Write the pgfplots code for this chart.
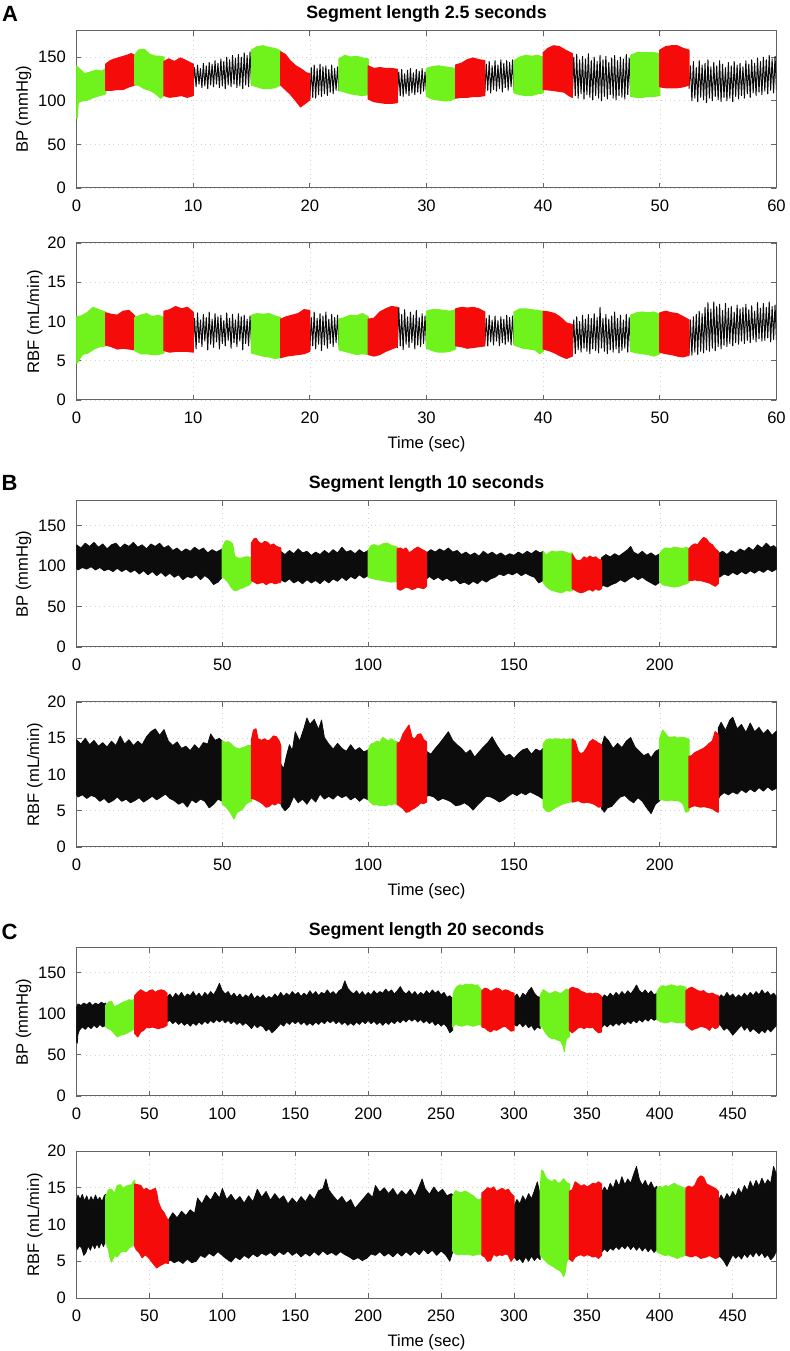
\documentclass[border=0pt]{standalone}
\usepackage{fontspec}
\setmainfont{Liberation Sans}
\usepackage{pgfplots}
\pgfplotsset{compat=1.18}
\definecolor{grn}{RGB}{112,242,28}
\definecolor{rd}{RGB}{245,12,10}
\definecolor{blk}{RGB}{12,12,12}
\definecolor{axc}{RGB}{100,100,100}
\newcommand{\fs}{\fontsize{8.3}{10}\selectfont}
\newcommand{\ts}{\fontsize{8.9}{10}\selectfont\bfseries}
\newcommand{\ls}{\fontsize{11}{12}\selectfont\bfseries}
\pgfplotsset{
 every axis title/.style={at={(0.5,1)}, anchor=center, yshift=8.5pt, font=\ts},
 base/.style={scale only axis, width=350pt, xmin=0,
  axis line style={axc, line width=0.5pt},
  every tick/.style={axc, line width=0.4pt}, major tick length=2.5pt,
  grid=major, major grid style={gray!35, line width=0.3pt, dotted},
  tick label style={font=\fs}, label style={font=\fs},
  /pgf/number format/assume math mode=true,
  yticklabel style={xshift=-1.8pt}, xticklabel style={yshift=-2.3pt},
  xlabel style={at={(axis description cs:0.5,0)}, anchor=center, yshift=-22pt}},
 bp/.style={ymin=0, ymax=180, ytick={0,50,100,150}, ylabel={BP (mmHg)},
  ylabel style={at={(axis description cs:-0.0757,0.5)}, anchor=center}},
 rbf/.style={ymin=0, ymax=20, ytick={0,5,10,15,20}, ylabel={RBF (mL/min)},
  ylabel style={at={(axis description cs:-0.0594,0.5)}, anchor=center}},
 zz/.style={blk, line width=0.5pt, line join=round},
 gseg/.style={draw=grn, fill=grn, line width=0.6pt, line join=round},
 rseg/.style={draw=rd, fill=rd, line width=0.6pt, line join=round},
 kseg/.style={draw=blk, fill=blk, line width=0.4pt, line join=round},
}
\begin{document}
\begin{tikzpicture}
\path[use as bounding box] (0,0) rectangle (394.5pt,675.5pt);
\node[font=\ls] at (5pt,668.5pt) {A};
\node[font=\ls] at (4.75pt,434pt) {B};
\node[font=\ls] at (4.75pt,209.5pt) {C};

% ---------------- A BP
\begin{axis}[base, bp, at={(38.25pt,581.5pt)}, anchor=south west, height=78.5pt,
  xmax=60, xtick={0,10,...,60}, title={Segment length 2.5 seconds}]
\addplot[zz] coordinates {(10,118)(10.125,138)(10.25,116)(10.375,141)(10.5,119)(10.625,137)(10.75,115)(10.875,143)(11,117)(11.125,140)(11.25,114)(11.375,144)(11.5,118)(11.625,142)(11.75,116)(11.875,146)(12,119)(12.125,143)(12.25,115)(12.375,148)(12.5,117)(12.625,145)(12.75,114)(12.875,150)(13,118)(13.125,147)(13.25,116)(13.375,152)(13.5,119)(13.625,149)(13.75,115)(13.875,153)(14,117)(14.125,150)(14.25,114)(14.375,155)(14.5,118)(14.625,152)(14.75,116)(14.875,156)(15,118)};
\addplot[zz] coordinates {(20,102)(20.125,138)(20.25,104)(20.375,141)(20.5,103)(20.625,137)(20.75,107)(20.875,142)(21,105)(21.125,139)(21.25,108)(21.375,140)(21.5,106)(21.625,136)(21.75,110)(21.875,141)(22,108)(22.125,137)(22.25,112)(22.375,139)(22.5,111)};
\addplot[zz] coordinates {(27.5,104)(27.625,133)(27.75,106)(27.875,136)(28,105)(28.125,131)(28.25,108)(28.375,135)(28.5,106)(28.625,137)(28.75,109)(28.875,132)(29,107)(29.125,136)(29.25,110)(29.375,134)(29.5,108)(29.625,137)(29.75,111)(29.875,133)(30,108)};
\addplot[zz] coordinates {(35,110)(35.125,142)(35.25,112)(35.375,145)(35.5,109)(35.625,140)(35.75,113)(35.875,146)(36,111)(36.125,141)(36.25,114)(36.375,147)(36.5,110)(36.625,143)(36.75,115)(36.875,146)(37,112)(37.125,144)(37.25,116)(37.375,147)(37.5,112)};
\addplot[zz] coordinates {(42.5,104)(42.625,150)(42.75,106)(42.875,153)(43,103)(43.125,147)(43.25,108)(43.375,151)(43.5,102)(43.625,148)(43.75,107)(43.875,154)(44,104)(44.125,146)(44.25,101)(44.375,150)(44.5,106)(44.625,145)(44.75,103)(44.875,152)(45,100)(45.125,147)(45.25,105)(45.375,151)(45.5,102)(45.625,144)(45.75,107)(45.875,149)(46,103)(46.125,152)(46.25,101)(46.375,146)(46.5,106)(46.625,150)(46.75,104)(46.875,148)(47,102)(47.125,153)(47.25,107)(47.375,149)(47.5,105)};
\addplot[zz] coordinates {(52.5,114)(52.625,140)(52.75,100)(52.875,145)(53,103)(53.125,138)(53.25,99)(53.375,146)(53.5,104)(53.625,141)(53.75,101)(53.875,143)(54,98)(54.125,147)(54.25,103)(54.375,139)(54.5,100)(54.625,144)(54.75,105)(54.875,140)(55,101)(55.125,146)(55.25,99)(55.375,142)(55.5,104)(55.625,138)(55.75,100)(55.875,144)(56,103)(56.125,140)(56.25,99)(56.375,145)(56.5,105)(56.625,141)(56.75,102)(56.875,143)(57,106)(57.125,139)(57.25,103)(57.375,146)(57.5,108)(57.625,142)(57.75,104)(57.875,147)(58,109)(58.125,143)(58.25,106)(58.375,149)(58.5,110)(58.625,145)(58.75,107)(58.875,150)(59,111)(59.125,147)(59.25,108)(59.375,152)(59.5,112)(59.625,148)(59.75,109)(59.875,151)(60,112)};
\addplot[gseg] coordinates {(0,140)(0.3,136)(0.7,131)(1.2,133)(1.7,135)(2.2,134)(2.5,137)(2.5,108)(2,106)(1.5,104)(1,101)(0.5,100)(0.15,98)(0.05,80)(0,80)} -- cycle;
\addplot[rseg] coordinates {(2.5,142)(2.9,146)(3.3,148)(3.8,150)(4.3,152)(4.7,154)(5,152)(5,118)(4.5,116)(4,113)(3.5,113)(3,112)(2.5,112)} -- cycle;
\addplot[gseg] coordinates {(5,152)(5.3,158)(5.8,159)(6.3,153)(6.8,151)(7.2,151)(7.5,150)(7.5,106)(7.2,103)(6.8,108)(6.3,112)(5.8,114)(5.3,118)(5,118)} -- cycle;
\addplot[rseg] coordinates {(7.5,145)(7.9,148)(8.4,145)(8.9,149)(9.4,146)(10,142)(10,106)(9.5,104)(9,106)(8.5,105)(8,104)(7.5,106)} -- cycle;
\addplot[gseg] coordinates {(15,158)(15.5,162)(16,163)(16.5,161)(17,160)(17.5,157)(17.5,118)(17,115)(16.5,114)(16,114)(15.5,116)(15,118)} -- cycle;
\addplot[rseg] coordinates {(17.5,156)(17.9,153)(18.3,146)(18.8,140)(19.3,136)(19.7,132)(20,131)(20,101)(19.6,97)(19.2,93)(18.8,100)(18.3,108)(17.9,113)(17.5,118)} -- cycle;
\addplot[gseg] coordinates {(22.5,148)(23,152)(23.5,150)(24,151)(24.5,149)(25,148)(25,107)(24.5,106)(24,107)(23.5,108)(23,110)(22.5,112)} -- cycle;
\addplot[rseg] coordinates {(25,140)(25.5,137)(26,138)(26.5,137)(27,137)(27.5,136)(27.5,98)(27,97)(26.5,97)(26,98)(25.5,99)(25,102)} -- cycle;
\addplot[gseg] coordinates {(30,137)(30.5,139)(31,140)(31.5,139)(32,138)(32.5,137)(32.5,103)(32,100)(31.5,100)(31,101)(30.5,102)(30,105)} -- cycle;
\addplot[rseg] coordinates {(32.5,141)(33,143)(33.5,147)(34,149)(34.5,147)(35,146)(35,106)(34.5,105)(34,105)(33.5,104)(33,104)(32.5,103)} -- cycle;
\addplot[gseg] coordinates {(37.5,146)(38,150)(38.5,152)(39,151)(39.5,152)(40,150)(40,109)(39.5,108)(39,106)(38.5,106)(38,107)(37.5,109)} -- cycle;
\addplot[rseg] coordinates {(40,155)(40.4,160)(40.9,163)(41.4,162)(41.9,158)(42.5,154)(42.5,104)(42.2,106)(41.8,110)(41.3,111)(40.8,112)(40,113)} -- cycle;
\addplot[gseg] coordinates {(47.5,152)(48,155)(48.5,155)(49,155)(49.5,155)(50,154)(50,106)(49.5,105)(49,105)(48.5,104)(48,104)(47.5,105)} -- cycle;
\addplot[rseg] coordinates {(50,158)(50.5,162)(51,163)(51.5,163)(52,160)(52.5,158)(52.5,118)(52,116)(51.5,115)(51,115)(50.5,115)(50,116)} -- cycle;
\end{axis}

% ---------------- A RBF
\begin{axis}[base, rbf, at={(38.25pt,475.5pt)}, anchor=south west, height=78.5pt,
  xmax=60, xtick={0,10,...,60}, xlabel={Time (sec)}]
\addplot[zz] coordinates {(10,7)(10.125,10.4)(10.25,6.5)(10.375,11.1)(10.5,7.3)(10.625,10.2)(10.75,6.8)(10.875,10.9)(11,7.5)(11.125,10.5)(11.25,6.4)(11.375,11.2)(11.5,7.1)(11.625,10.3)(11.75,6.7)(11.875,11)(12,7.4)(12.125,10.6)(12.25,6.5)(12.375,10.8)(12.5,7.2)(12.625,10.1)(12.75,6.9)(12.875,11.1)(13,7.6)(13.125,10.4)(13.25,6.6)(13.375,10.9)(13.5,7.3)(13.625,10.2)(13.75,6.8)(13.875,11)(14,7.5)(14.125,10.6)(14.25,6.4)(14.375,10.8)(14.5,7.2)(14.625,10.3)(14.75,6.9)(14.875,10.7)(15,7.1)};
\addplot[zz] coordinates {(20,6.4)(20.125,10.5)(20.25,6.9)(20.375,11.2)(20.5,6.5)(20.625,10.4)(20.75,7.1)(20.875,11)(21,6.3)(21.125,10.7)(21.25,7)(21.375,11.2)(21.5,6.6)(21.625,10.3)(21.75,7.2)(21.875,10.9)(22,6.8)(22.125,10.5)(22.25,7.3)(22.375,10.8)(22.5,7)};
\addplot[zz] coordinates {(27.5,6.6)(27.625,11.8)(27.75,6.9)(27.875,10.9)(28,6.4)(28.125,11.5)(28.25,7.1)(28.375,10.6)(28.5,6.7)(28.625,11.2)(28.75,7.3)(28.875,10.8)(29,6.5)(29.125,11.4)(29.25,7)(29.375,10.5)(29.5,6.8)(29.625,11)(29.75,7.2)(29.875,10.7)(30,6.9)};
\addplot[zz] coordinates {(35,7.2)(35.125,10.4)(35.25,6.9)(35.375,10.8)(35.5,7.4)(35.625,10.2)(35.75,7)(35.875,10.7)(36,7.5)(36.125,10.1)(36.25,6.9)(36.375,10.6)(36.5,7.3)(36.625,10.3)(36.75,7.1)(36.875,10.8)(37,7.4)(37.125,10.5)(37.25,7)(37.375,10.7)(37.5,7.2)};
\addplot[zz] coordinates {(42.5,6)(42.625,10.2)(42.75,5.9)(42.875,10.6)(43,6.4)(43.125,10)(43.25,6.1)(43.375,10.8)(43.5,6.6)(43.625,10.3)(43.75,6.2)(43.875,10.9)(44,5.9)(44.125,10.4)(44.25,6.5)(44.375,11)(44.5,6.3)(44.625,10.5)(44.75,6)(44.875,11.8)(45,6.6)(45.125,10.4)(45.25,6.2)(45.375,10.9)(45.5,5.9)(45.625,10.3)(45.75,6.4)(45.875,10.7)(46,6.1)(46.125,11.2)(46.25,6.5)(46.375,10.4)(46.5,6)(46.625,10.8)(46.75,6.3)(46.875,10.2)(47,6.6)(47.125,10.9)(47.25,6.1)(47.375,10.5)(47.5,6.2)};
\addplot[zz] coordinates {(52.5,5.9)(52.625,10.2)(52.75,5.7)(52.875,10.6)(53,6.1)(53.125,10.9)(53.25,5.8)(53.375,11.3)(53.5,6.2)(53.625,11)(53.75,6)(53.875,11.8)(54,6.4)(54.125,12.4)(54.25,6.2)(54.375,11.6)(54.5,6.6)(54.625,12.5)(54.75,6.3)(54.875,11.9)(55,6.8)(55.125,12.2)(55.25,6.5)(55.375,11.4)(55.5,7)(55.625,12.3)(55.75,6.8)(55.875,11.7)(56,7.2)(56.125,11.9)(56.25,6.9)(56.375,11.2)(56.5,7.3)(56.625,12.1)(56.75,7.1)(56.875,11.6)(57,7.5)(57.125,11.8)(57.25,7.2)(57.375,12.2)(57.5,7.6)(57.625,11.5)(57.75,7.3)(57.875,12)(58,7.7)(58.125,11.3)(58.25,7.4)(58.375,12.4)(58.5,7.8)(58.625,11.7)(58.75,7.5)(58.875,12.3)(59,7.6)(59.125,11.8)(59.25,7.9)(59.375,12.5)(59.5,7.4)(59.625,11.9)(59.75,7.7)(59.875,12.1)(60,7.6)};
\addplot[gseg] coordinates {(0,10.6)(0.4,10.7)(0.9,11.1)(1.4,11.8)(1.9,11.5)(2.5,11.2)(2.5,6.9)(2,6.8)(1.5,6.5)(1,6)(0.5,5.8)(0.1,4.8)(0,4.7)} -- cycle;
\addplot[rseg] coordinates {(2.5,11.1)(3,10.9)(3.5,10.8)(4,11.3)(4.5,11.4)(5,10.7)(5,6.4)(4.5,6.5)(4,6.6)(3.5,6.5)(3,6.8)(2.5,7)} -- cycle;
\addplot[gseg] coordinates {(5,10.5)(5.5,10.8)(6,11)(6.5,10.6)(7,10.8)(7.5,10.5)(7.5,6)(7,5.8)(6.5,5.8)(6,5.9)(5.5,5.9)(5,6.3)} -- cycle;
\addplot[rseg] coordinates {(7.5,11.3)(8,11.5)(8.5,11.9)(9,11.6)(9.5,11.8)(10,11.2)(10,6.1)(9.5,6.2)(9,6.2)(8.5,6.2)(8,6.1)(7.5,6.3)} -- cycle;
\addplot[gseg] coordinates {(15,10.8)(15.5,11)(16,10.9)(16.5,11)(17,10.7)(17.5,10.5)(17.5,5.4)(17,5.3)(16.5,5.5)(16,5.6)(15.5,5.8)(15,6)} -- cycle;
\addplot[rseg] coordinates {(17.5,10.3)(18,10.6)(18.5,10.8)(19,11)(19.5,11.5)(20,11.4)(20,6.2)(19.5,5.9)(19,5.8)(18.5,5.7)(18,5.6)(17.5,5.4)} -- cycle;
\addplot[gseg] coordinates {(22.5,10.3)(23,10.5)(23.5,10.8)(24,10.7)(24.5,11)(25,10.6)(25,5.8)(24.5,5.9)(24,5.8)(23.5,6)(23,6.2)(22.5,6.4)} -- cycle;
\addplot[rseg] coordinates {(25,10.3)(25.5,10.4)(26,11.2)(26.5,11.6)(27,11.9)(27.5,11.8)(27.5,6.8)(27,6.5)(26.5,6.2)(26,5.8)(25.5,5.6)(25,5.8)} -- cycle;
\addplot[gseg] coordinates {(30,11.3)(30.5,11.5)(31,11.5)(31.5,11.4)(32,11.3)(32.5,11.5)(32.5,6.5)(32,6.2)(31.5,6.1)(31,6.1)(30.5,6.3)(30,6.6)} -- cycle;
\addplot[rseg] coordinates {(32.5,11.6)(33,11.8)(33.5,11.7)(34,11.8)(34.5,11.6)(35,11.2)(35,6.9)(34.5,6.8)(34,6.7)(33.5,6.6)(33,6.8)(32.5,6.9)} -- cycle;
\addplot[gseg] coordinates {(37.5,11.2)(38,11.6)(38.5,11.6)(39,11.5)(39.5,11.4)(40,11.3)(40,6.2)(39.7,5.9)(39.3,6.4)(38.8,6.5)(38.3,6.6)(37.5,7)} -- cycle;
\addplot[rseg] coordinates {(40,11.3)(40.5,11.2)(41,11)(41.5,10.5)(42,9.8)(42.5,9.6)(42.5,5.6)(42,5.3)(41.5,5.6)(41,6)(40.5,6.3)(40,6.5)} -- cycle;
\addplot[gseg] coordinates {(47.5,10.8)(48,11.1)(48.5,11.2)(49,11.1)(49.5,11.2)(50,10.9)(50,5.9)(49.5,5.6)(49,5.8)(48.5,5.9)(48,6)(47.5,6.2)} -- cycle;
\addplot[rseg] coordinates {(50,11.1)(50.5,11.3)(51,11.1)(51.5,11)(52,10.6)(52.5,10.2)(52.5,5.7)(52,5.5)(51.5,5.6)(51,5.8)(50.5,5.9)(50,6.1)} -- cycle;
\end{axis}

% ---------------- B BP
\begin{axis}[base, bp, at={(38.25pt,352pt)}, anchor=south west, height=73pt,
  xmax=240, xtick={0,50,...,200}, title={Segment length 10 seconds}]
\addplot[kseg] coordinates {(0,126)(1.5,122)(3,128)(4.5,124)(6,129)(7.5,123)(9,127)(10.5,121)(12,126)(13.5,128)(15,122)(16.5,127)(18,124)(19.5,129)(21,123)(22.5,126)(24,121)(25.5,127)(27,124)(28.5,128)(30,122)(31.5,125)(33,119)(34.5,122)(36,117)(37.5,121)(39,118)(40.5,123)(42,119)(43.5,122)(45,116)(46.5,120)(48,117)(50,121)
 (50,86)(48.5,80)(47,77)(45.5,84)(44,88)(42.5,83)(41,89)(39.5,85)(38,87)(36.5,83)(35,89)(33.5,86)(32,91)(30.5,87)(29,92)(27.5,88)(26,93)(24.5,89)(23,94)(21.5,90)(20,95)(18.5,92)(17,96)(15.5,93)(14,97)(12.5,93)(11,96)(9.5,94)(8,98)(6.5,95)(5,99)(3.5,96)(2,98)(0.5,95)(0,97)} -- cycle;
\addplot[kseg] coordinates {(70,118)(71.5,114)(73,119)(74.5,115)(76,121)(77.5,116)(79,118)(80.5,113)(82,117)(83.5,114)(85,119)(86.5,115)(88,120)(89.5,116)(91,123)(92.5,117)(94,119)(95.5,115)(97,120)(98.5,116)(100,119)
 (100,88)(98.5,85)(97,89)(95.5,84)(94,87)(92.5,82)(91,86)(89.5,81)(88,84)(86.5,79)(85,83)(83.5,78)(82,82)(80.5,79)(79,83)(77.5,78)(76,82)(74.5,79)(73,84)(71.5,80)(70,83)} -- cycle;
\addplot[kseg] coordinates {(120,116)(121.5,120)(123,117)(124.5,121)(126,118)(127.5,122)(129,117)(130.5,119)(132,114)(133.5,117)(135,113)(136.5,116)(138,112)(139.5,118)(141,114)(142.5,117)(144,113)(145.5,116)(147,112)(148.5,115)(150,113)(151.5,117)(153,114)(154.5,118)(156,115)(157.5,119)(159,116)(160,118)
 (160,82)(158.5,79)(157,86)(155.5,88)(154,91)(152.5,88)(151,92)(149.5,89)(148,91)(146.5,88)(145,90)(143.5,86)(142,84)(140.5,80)(139,83)(137.5,78)(136,81)(134.5,77)(133,80)(131.5,78)(130,83)(128.5,81)(127,85)(125.5,82)(124,86)(122.5,83)(121,87)(120,84)} -- cycle;
\addplot[kseg] coordinates {(180,110)(181.5,114)(183,111)(184.5,115)(186,112)(187.5,116)(189,120)(190,124)(191,117)(192.5,114)(194,118)(195.5,113)(197,116)(198.5,112)(200,115)
 (200,80)(198.5,76)(197,79)(195.5,82)(194,86)(192.5,83)(191,87)(189.5,84)(188,80)(186.5,83)(185,79)(183.5,77)(182,74)(180.5,76)(180,74)} -- cycle;
\addplot[kseg] coordinates {(220,115)(221.5,118)(223,114)(224.5,119)(226,116)(227.5,121)(229,118)(230.5,123)(232,119)(233.5,126)(235,122)(236.5,128)(238,123)(239,125)(240,122)
 (240,96)(238.5,93)(237,96)(235.5,92)(234,95)(232.5,91)(231,94)(229.5,90)(228,93)(226.5,89)(225,92)(223.5,88)(222,90)(220.5,86)(220,88)} -- cycle;
\addplot[gseg] coordinates {(50,121)(50.8,129)(51.5,131)(52.5,130)(53.5,127)(54.2,112)(55,110)(56,109)(57,110)(58,111)(59,111)(60,110)(60,80)(59,76)(58,75)(57,73)(56,72)(55,70)(54,70)(53,74)(52,80)(51,84)(50,86)} -- cycle;
\addplot[rseg] coordinates {(60,128)(60.8,133)(61.5,134)(62.5,129)(63.5,127)(64.5,130)(65.5,129)(66.5,125)(67.5,127)(68.5,124)(70,122)(70,80)(69,79)(68,78)(67,80)(66,79)(65,77)(64,80)(63,79)(62,78)(61,80)(60,82)} -- cycle;
\addplot[gseg] coordinates {(100,119)(101,125)(102,126)(103.5,124)(105,127)(106.5,128)(108,125)(109,124)(110,123)(110,80)(109,81)(108,80)(106.5,81)(105,82)(103.5,83)(102,84)(101,85)(100,86)} -- cycle;
\addplot[rseg] coordinates {(110,121)(111,122)(112,120)(113,122)(114,116)(115,118)(116,121)(117,123)(118,121)(119,119)(120,117)(120,75)(119,72)(118,73)(117,74)(116,72)(115,71)(114,73)(113,74)(112,72)(111,70)(110,72)} -- cycle;
\addplot[gseg] coordinates {(160,118)(161,113)(162,116)(163,118)(164.5,117)(166,118)(167.5,117)(169,115)(170,116)(170,70)(169,69)(168,70)(167,68)(166,67)(165,68)(164,69)(163,70)(162,72)(161,75)(160,80)} -- cycle;
\addplot[rseg] coordinates {(170,114)(171,108)(172,106)(173,107)(174,111)(175,109)(176,112)(177,110)(178,111)(179,108)(180,107)(180,72)(179,70)(178,72)(177,69)(176,71)(175,70)(174,68)(173,67)(172,68)(171,70)(170,72)} -- cycle;
\addplot[gseg] coordinates {(200,115)(201,120)(202,122)(203.5,121)(205,123)(206.5,122)(208,121)(209,123)(210,121)(210,80)(209,78)(208,77)(206.5,75)(205,74)(203.5,75)(202,76)(201,77)(200,80)} -- cycle;
\addplot[rseg] coordinates {(210,121)(211,125)(212,127)(213,126)(214,131)(215,135)(216,133)(217,128)(218,126)(219,121)(220,118)(220,78)(219,75)(218,77)(217,79)(216,80)(215,81)(214,82)(213,82)(212,83)(211,82)(210,82)} -- cycle;
\end{axis}

% ---------------- B RBF
\begin{axis}[base, rbf, at={(38.25pt,252pt)}, anchor=south west, height=72.5pt,
  xmax=240, xtick={0,50,...,200}, xlabel={Time (sec)}]
\addplot[kseg] coordinates {(0,14.8)(1.5,14.2)(3,15)(4.5,14.1)(6,14.7)(7.5,13.9)(9,14.4)(10.5,13.8)(12,14.6)(13.5,14)(15,15.3)(16.5,14.2)(18,14.8)(19.5,14)(21,14.6)(22.5,14.1)(24,15.2)(25.5,15.9)(27,16.3)(28.5,15.4)(30,16.2)(31.5,14.6)(33,14)(34.5,14.5)(36,13.6)(37.5,13.9)(39,13.3)(40.5,14.1)(42,13.5)(43.5,14.4)(45,14.2)(46,15.6)(47.5,14.7)(49,15)(50,14.6)
 (50,6.3)(48.5,6.6)(47,5.9)(45.5,5.4)(44,6.3)(42.5,6.6)(41,6.1)(39.5,6.5)(38,5.5)(36.5,6.2)(35,5.9)(33.5,6.4)(32,6.7)(30.5,7.3)(29,6.9)(27.5,6.5)(26,7)(24.5,6.6)(23,6.2)(21.5,6.8)(20,6.4)(18.5,6.1)(17,6.6)(15.5,6.3)(14,6.9)(12.5,6.4)(11,6.1)(9.5,6.7)(8,6.3)(6.5,6.9)(5,7.1)(3.5,6.7)(2,7.2)(0.5,6.9)(0,7.2)} -- cycle;
\addplot[kseg] coordinates {(70,11.5)(71,10.8)(72,12.6)(73,14.1)(74,13.3)(75,15.9)(76.5,14.6)(78,16.4)(79,17.8)(80,16.9)(81.5,17.6)(83,16.2)(84,17.5)(85,15.1)(86.5,14.2)(88,13.5)(89.5,14.3)(91,13.6)(92.5,13.2)(94,14.1)(95.5,13.3)(97,13.7)(98.5,13.1)(100,13.4)
 (100,6.5)(98.5,6.8)(97,6.3)(95.5,6.9)(94,6.5)(92.5,7.1)(91,6.8)(89.5,7.2)(88,6.6)(86.5,7)(85,6.6)(83.5,7.3)(82,6.2)(80.5,6.8)(79,5.9)(77.5,6.6)(76,6.1)(74.5,7)(73,5.6)(71.5,5)(70.5,5.5)(70,6)} -- cycle;
\addplot[kseg] coordinates {(120,13.2)(121.5,12.8)(123,13.6)(124.5,14.3)(126,15.1)(127.5,15.9)(129,14.7)(130.5,14.1)(132,13.6)(133.5,12.9)(135,13.4)(136.5,12.4)(138,13.1)(139.5,13.8)(141,14.4)(142.5,15.2)(144,14.1)(145.5,13.2)(147,12.5)(148.5,12.8)(150,12.2)(151.5,12.9)(153,13.4)(154.5,13.6)(156,12.8)(157.5,13.5)(159,13.2)(160,13.6)
 (160,6.6)(158.5,7)(157,7.3)(155.5,7.6)(154,7.2)(152.5,7.5)(151,7.1)(149.5,7.4)(148,7)(146.5,6.5)(145,6.2)(143.5,6.6)(142,6.9)(140.5,7)(139,6.4)(137.5,5.8)(136,5.1)(134.5,5.7)(133,6.1)(131.5,5.8)(130,5.7)(128.5,6.2)(127,6.5)(125.5,6.7)(124,6.4)(122.5,6.9)(121,7.1)(120,7)} -- cycle;
\addplot[kseg] coordinates {(180,13.8)(181,15.3)(182.5,14.6)(184,13.6)(185.5,14.3)(187,13.7)(188.5,14.6)(190,15.1)(191.5,13.8)(193,13.2)(194.5,12.6)(196,12.9)(197,12.3)(198.5,13.2)(200,13.5)
 (200,6.4)(198.5,5.9)(197,4.6)(195.5,5.4)(194,6.3)(192.5,6.8)(191,6.1)(189.5,6.5)(188,7.1)(186.5,6.9)(185,6.3)(183.5,5.6)(182,5.4)(181,4.8)(180,5.3)} -- cycle;
\addplot[kseg] coordinates {(220,16.4)(221,17.2)(222.5,16.1)(224,17.5)(225,17.9)(226.5,16.3)(228,16.9)(229.5,15.8)(231,17.1)(232.5,15.9)(234,16.5)(235.5,15.6)(237,16.2)(238.5,15.4)(240,16)
 (240,8.1)(238.5,7.8)(237,8.3)(235.5,7.7)(234,8.2)(232.5,7.6)(231,8)(229.5,7.5)(228,7.9)(226.5,7.3)(225,7.6)(223.5,7.2)(222,7.5)(220.5,7)(220,6.5)} -- cycle;
\addplot[gseg] coordinates {(50,14.6)(51,14.4)(52,14.5)(53,14.2)(54,13.8)(55,13.6)(56,13.5)(57,13.7)(58,13.8)(59,14)(60,14)(60,6.3)(59,6.2)(58,5.9)(57,5.3)(56,5)(55,4.8)(54,3.9)(53,4.6)(52,5.2)(51,5.6)(50,6)} -- cycle;
\addplot[rseg] coordinates {(60,14.8)(60.7,16.1)(61.5,16.3)(62.2,14.9)(63.5,14.7)(64.5,14.9)(65.5,14.6)(66.5,14.8)(67.5,15.3)(68.5,15.2)(69.5,14.6)(70,14)(70,6)(69,6.1)(68,5.8)(67,6)(66,5.6)(65,5.5)(64,5.9)(63,6.2)(62,6.4)(61,6.6)(60,6.7)} -- cycle;
\addplot[gseg] coordinates {(100,13.4)(101,14.2)(102,14.3)(103,14.6)(104,14.4)(105,15.1)(106,14.8)(107,14.6)(108,14.9)(109,14.6)(110,14.5)(110,5.8)(109,6)(108,5.8)(107,5.9)(106,5.7)(105,5.8)(104,5.7)(103,5.9)(102,5.8)(101,6.1)(100,6.5)} -- cycle;
\addplot[rseg] coordinates {(110,14.3)(111,14.5)(112,15.6)(113,16.2)(114,16.8)(115,15.1)(116,14.9)(117,15.5)(118,15.6)(119,14.8)(120,14.5)(120,6.2)(119,6)(118,6.1)(117,5.7)(116,5.4)(115,5.2)(114,4.9)(113,4.8)(112,5.3)(111,5.6)(110,5.9)} -- cycle;
\addplot[gseg] coordinates {(160,14.2)(161,14.7)(162,14.9)(163,14.8)(164,14.9)(165,14.9)(166,14.8)(167,14.9)(168,14.8)(169,14.9)(170,14.8)(170,6.3)(169,6.2)(168,6.1)(167,6)(166,5.8)(165,5.6)(164,5.4)(163,5.1)(162,4.9)(161,5)(160,5.5)} -- cycle;
\addplot[rseg] coordinates {(170,14.9)(171,14.6)(172,13.2)(173,12.8)(174,13.1)(175,13.7)(176,14.5)(177,14.8)(178,14.6)(179,14.3)(180,14.1)(180,5.6)(179,5.5)(178,5.8)(177,6)(176,6.1)(175,6.2)(174,6.1)(173,6.2)(172,6.4)(171,6.3)(170,6.2)} -- cycle;
\addplot[gseg] coordinates {(200,15)(201,16.1)(202,15.6)(203,15.1)(204,15.1)(205,15.2)(206,15)(207,15.1)(208,15.1)(209,15)(210,14.8)(210,5)(209,4.8)(208,5.9)(207,6.3)(206,6.4)(205,6.4)(204,6.5)(203,6.4)(202,6.4)(201,6.5)(200,6.5)} -- cycle;
\addplot[rseg] coordinates {(210,12.5)(211,12.6)(212,13)(213,13.2)(214,13.4)(215,13.6)(216,13.9)(217,14.3)(218,14.6)(219,15.9)(220,15.5)(220,4.8)(219,5)(218,5.3)(217,5.4)(216,5.5)(215,5.6)(214,5.5)(213,5.6)(212,5.7)(211,5.6)(210,5.4)} -- cycle;
\end{axis}

% ---------------- C BP
\begin{axis}[base, bp, at={(38.25pt,127.5pt)}, anchor=south west, height=74pt,
  xmax=480, xtick={0,50,...,450}, title={Segment length 20 seconds}]
\addplot[kseg] coordinates {(0,108)(1,112)(3,110)(5,113)(7,111)(9,114)(11,110)(13,113)(15,111)(17,114)(19,112)(20,113)
 (20,86)(18,84)(16,87)(14,83)(12,86)(10,82)(8,85)(6,81)(4,84)(2,80)(1,75)(0.5,64)(0,66)} -- cycle;
\addplot[kseg] coordinates {(62,120)(64,124)(66,119)(68,125)(70,121)(72,126)(74,120)(76,124)(78,122)(80,127)(82,121)(84,125)(86,120)(88,126)(90,122)(92,127)(94,123)(96,129)(98,137)(100,128)(102,124)(104,127)(106,121)(108,125)(110,120)(112,124)(114,119)(116,123)(118,120)(120,125)(122,118)(124,122)(126,119)(128,123)(130,118)(132,121)(134,119)(136,124)(138,120)(140,126)(142,121)(144,125)(146,122)(148,127)(150,123)(152,126)(154,121)(156,125)(158,122)(160,128)(162,123)(164,127)(166,122)(168,126)(170,124)(172,129)(174,124)(176,127)(178,123)(180,128)(182,130)(184,140)(186,131)(188,127)(190,124)(192,128)(194,123)(196,127)(198,122)(200,126)(202,123)(204,128)(206,124)(208,127)(210,125)(212,130)(214,126)(216,129)(218,124)(220,128)(222,133)(224,127)(226,124)(228,128)(230,123)(232,127)(234,122)(236,126)(238,123)(240,128)(242,124)(244,129)(246,125)(248,128)(250,123)(252,126)(254,120)(256,122)(258,118)
 (258,80)(256,77)(254,84)(252,88)(250,85)(248,89)(246,86)(244,91)(242,88)(240,92)(238,89)(236,93)(234,90)(232,94)(230,91)(228,94)(226,90)(224,93)(222,89)(220,92)(218,88)(216,91)(214,87)(212,90)(210,86)(208,90)(206,87)(204,91)(202,88)(200,92)(198,88)(196,91)(194,87)(192,90)(190,86)(188,89)(186,86)(184,90)(182,87)(180,91)(178,88)(176,92)(174,89)(172,92)(170,88)(168,91)(166,87)(164,90)(162,86)(160,89)(158,86)(156,90)(154,87)(152,91)(150,88)(148,91)(146,87)(144,90)(142,85)(140,88)(138,84)(136,80)(134,77)(132,82)(130,79)(128,84)(126,86)(124,83)(122,87)(120,82)(118,86)(116,89)(114,86)(112,90)(110,87)(108,91)(106,88)(104,92)(102,89)(100,93)(98,90)(96,93)(94,89)(92,92)(90,88)(88,91)(86,87)(84,90)(82,86)(80,89)(78,85)(76,89)(74,86)(72,90)(70,87)(68,91)(66,88)(64,92)(62,90)} -- cycle;
\addplot[kseg] coordinates {(300,120)(302,124)(304,118)(306,125)(308,122)(310,128)(312,132)(314,125)(316,121)(318,120)
 (318,82)(316,84)(314,80)(312,86)(310,83)(308,88)(306,84)(304,89)(302,85)(300,87)} -- cycle;
\addplot[kseg] coordinates {(360,118)(362,123)(364,120)(366,125)(368,121)(370,126)(372,122)(374,127)(376,123)(378,128)(380,124)(382,129)(384,135)(386,128)(388,125)(390,129)(392,124)(394,128)(396,123)(398,125)
 (398,94)(396,92)(394,95)(392,91)(390,94)(388,90)(386,93)(384,89)(382,92)(380,88)(378,91)(376,87)(374,90)(372,86)(370,89)(368,85)(366,88)(364,84)(362,87)(360,83)} -- cycle;
\addplot[kseg] coordinates {(440,118)(442,123)(444,120)(446,126)(448,121)(450,124)(452,119)(454,123)(456,120)(458,125)(460,121)(462,126)(464,122)(466,127)(468,123)(470,129)(472,124)(474,127)(476,122)(478,125)(480,121)
 (480,86)(478,82)(476,78)(474,82)(472,77)(470,80)(468,76)(466,79)(464,82)(462,78)(460,84)(458,80)(456,86)(454,82)(452,78)(450,74)(448,79)(446,83)(444,80)(442,85)(440,88)} -- cycle;
\addplot[gseg] coordinates {(20,110)(22,114)(24,115)(26,108)(28,110)(30,112)(32,114)(34,115)(36,117)(38,116)(40,118)(40,82)(38,80)(36,78)(34,76)(32,75)(30,74)(28,72)(26,76)(24,80)(22,82)(20,84)} -- cycle;
\addplot[rseg] coordinates {(40,122)(42,126)(44,129)(46,127)(48,125)(50,128)(52,129)(54,126)(56,128)(58,129)(60,128)(62,125)(62,86)(60,84)(58,83)(56,82)(54,83)(52,84)(50,83)(48,84)(46,80)(44,78)(42,72)(40,76)} -- cycle;
\addplot[gseg] coordinates {(258,118)(259,128)(261,133)(263,135)(265,134)(267,136)(269,135)(271,136)(273,134)(275,135)(277,130)(278,128)(278,86)(276,87)(274,86)(272,85)(270,86)(268,87)(266,86)(264,85)(262,86)(260,88)(258,84)} -- cycle;
\addplot[rseg] coordinates {(278,128)(280,131)(282,130)(284,127)(286,129)(288,131)(290,130)(292,127)(294,129)(296,128)(298,126)(300,125)(300,80)(298,79)(296,82)(294,85)(292,84)(290,82)(288,80)(286,81)(284,78)(282,80)(280,83)(278,84)} -- cycle;
\addplot[gseg] coordinates {(318,122)(320,129)(322,127)(324,124)(326,125)(328,127)(330,126)(332,124)(334,127)(336,130)(338,128)(338,72)(336,70)(335,62)(334.5,54)(334,60)(332,67)(330,68)(328,70)(326,70)(324,72)(322,76)(320,82)(318,86)} -- cycle;
\addplot[rseg] coordinates {(338,130)(340,132)(342,131)(344,130)(346,127)(348,126)(350,124)(352,125)(354,124)(356,125)(358,124)(360,121)(360,78)(358,77)(356,80)(354,84)(352,83)(350,84)(348,82)(346,84)(344,83)(342,80)(340,77)(338,80)} -- cycle;
\addplot[gseg] coordinates {(398,126)(400,132)(402,134)(404,133)(406,134)(408,135)(410,134)(412,133)(414,134)(416,133)(418,132)(418,90)(416,89)(414,90)(412,89)(410,90)(408,91)(406,90)(404,89)(402,90)(400,91)(398,93)} -- cycle;
\addplot[rseg] coordinates {(418,128)(420,131)(422,132)(424,130)(426,128)(428,127)(430,128)(432,125)(434,124)(436,125)(438,123)(440,122)(440,84)(438,82)(436,85)(434,80)(432,83)(430,84)(428,85)(426,83)(424,82)(422,80)(420,83)(418,86)} -- cycle;
\end{axis}

% ---------------- C RBF
\begin{axis}[base, rbf, at={(38.25pt,26.5pt)}, anchor=south west, height=73.5pt,
  xmax=480, xtick={0,50,...,450}, xlabel={Time (sec)}]
\addplot[kseg] coordinates {(0,13.2)(1,14)(2.5,13.4)(4,14.1)(5.5,13.2)(7,13.9)(8.5,13.1)(10,13.8)(11.5,13.2)(13,14)(14.5,13.3)(16,13.7)(17.5,13.1)(19,13.9)(20,14.1)
 (20,7.8)(18.5,7)(17,7.6)(15.5,6.8)(14,7.4)(12.5,6.7)(11,7.3)(9.5,6.5)(8,7.1)(6.5,6.2)(5,5.8)(3.5,6.8)(2,7.1)(0.5,6.6)(0,7.2)} -- cycle;
\addplot[kseg] coordinates {(63,10.6)(66,11.6)(69,10.9)(72,11.8)(75,11.2)(78,12)(81,11.5)(83,13.6)(86,12.8)(89,14)(92,13.3)(95,14.4)(98,13.6)(100,14.9)(103,13.4)(106,14.1)(109,13.2)(112,13.8)(115,12.9)(118,13.9)(121,13.1)(124,14.8)(127,13.7)(130,14.5)(133,13.3)(136,14.2)(139,13.4)(142,13.9)(145,12.8)(148,13.6)(151,12.9)(154,13.8)(157,13.1)(160,14.1)(163,13.4)(166,14.6)(169,14.9)(171,16.2)(173,14.7)(176,13.9)(179,13.2)(182,13.8)(185,12.9)(188,13.4)(191,12.2)(194,12.9)(197,13.6)(200,14.3)(203,13.7)(205,15.3)(208,14.4)(211,15)(214,14.2)(217,14.9)(220,13.9)(223,14.6)(226,14)(229,14.8)(232,13.8)(235,15.2)(237,16.2)(239,14.9)(242,14.1)(245,15.1)(248,14.3)(251,14.8)(254,13.9)(257,14.2)(258,14)
 (258,6.3)(256,5)(253,5.9)(250,6.4)(247,5.8)(244,6.5)(241,6)(238,6.6)(235,5.9)(232,6.4)(229,5.8)(226,6.3)(223,5.7)(220,6.2)(217,5.6)(214,6.1)(211,5.7)(208,6.3)(205,5.8)(202,6)(199,5.4)(196,5.1)(193,5.5)(190,5.2)(187,5.6)(184,5.9)(181,6.3)(178,5.8)(175,6.2)(172,5.9)(169,6.4)(166,5.8)(163,6.3)(160,5.7)(157,6.1)(154,5.6)(151,6.2)(148,5.8)(145,6.4)(142,5.9)(139,6.3)(136,5.7)(133,6.2)(130,5.8)(127,6.1)(124,5.6)(121,6)(118,5.4)(115,5.8)(112,5.2)(109,5.6)(106,4.9)(103,5.3)(100,5.8)(97,6.3)(94,5.7)(91,6.1)(88,5.5)(85,5.8)(82,5)(79,4.8)(76,5.3)(73,4.7)(70,5.1)(67,4.8)(64,5.2)(63,4.9)} -- cycle;
\addplot[kseg] coordinates {(300,12.5)(302,13.4)(304,12.8)(306,13.9)(308,13.2)(310,14.2)(312,13.5)(314,14.6)(316,15.8)(318,14)
 (318,5.2)(316,5.6)(314,5.1)(312,5.7)(310,5)(308,5.6)(306,4.8)(304,5.4)(302,5.1)(300,5.6)} -- cycle;
\addplot[kseg] coordinates {(360,14.3)(362,15.1)(364,14.5)(366,15.6)(368,14.9)(370,16.1)(372,15.2)(374,16.5)(376,15.4)(378,16.2)(380,15.6)(382,16.8)(384,17.9)(386,16.1)(388,15.3)(390,16)(392,15.1)(394,15.8)(396,14.9)(398,15.2)
 (398,6.6)(396,6.2)(394,6.8)(392,6.3)(390,6.9)(388,6.4)(386,7)(384,6.5)(382,7.1)(380,6.6)(378,7.2)(376,6.7)(374,7.1)(372,6.6)(370,7)(368,6.5)(366,6.8)(364,6.3)(362,6.7)(360,6.2)} -- cycle;
\addplot[kseg] coordinates {(440,13.2)(442,14)(444,13.3)(446,14.2)(448,13.6)(450,14.5)(452,13.8)(454,14.9)(456,14.2)(458,15.3)(460,14.6)(462,15.9)(464,15)(466,16)(468,15.2)(470,16.3)(472,15.4)(474,16.1)(476,15.6)(478,17.9)(480,16.8)
 (480,6.4)(478,5.6)(476,5.2)(474,5.9)(472,5.5)(470,6.2)(468,5.7)(466,6.3)(464,5.6)(462,6.1)(460,5.5)(458,6)(456,5.3)(454,5.8)(452,5.4)(450,5.9)(448,5.1)(446,4.3)(444,5)(442,5.5)(440,5.8)} -- cycle;
\addplot[gseg] coordinates {(20,13.8)(22,14.7)(24,14.8)(26,14.2)(28,15.3)(30,15.4)(32,14.9)(34,15.2)(36,15.3)(38,15.4)(39,15.8)(40,16)(40,7.2)(38,7.1)(36,6.8)(34,6.3)(32,6.4)(30,6.2)(28,5.6)(26,5.8)(24,4.9)(23,5.5)(22,6.6)(20,7.6)} -- cycle;
\addplot[rseg] coordinates {(40,15.5)(42,15.4)(44,15.3)(46,14.7)(48,14.9)(50,14.6)(52,14.7)(54,14.9)(55,14.3)(56,13.1)(58,12.1)(60,11.6)(62,10.8)(63,10.6)(63,4.7)(61,4.8)(59,4.6)(57,4.4)(55,4.1)(53,4.6)(51,5.1)(49,5.6)(47,5.9)(45,5.5)(43,6.2)(41,6.6)(40,7)} -- cycle;
\addplot[gseg] coordinates {(258,13.8)(260,14.6)(262,14.4)(264,14.3)(266,14.5)(268,14.4)(270,14.1)(272,13.9)(274,13.5)(276,13.3)(278,13.6)(278,5.9)(276,6)(274,5.9)(272,5.8)(270,5.9)(268,6)(266,5.9)(264,6)(262,5.9)(260,6)(258,6.4)} -- cycle;
\addplot[rseg] coordinates {(278,14.3)(280,14.6)(282,15)(284,14.8)(286,15.1)(288,14.5)(290,14.7)(292,14.9)(294,14.6)(296,14.8)(298,14.2)(300,13.8)(300,5.6)(298,5)(296,5.9)(294,6)(292,5.8)(290,5.9)(288,5.7)(286,6)(284,5.1)(282,5)(280,5.6)(278,5.8)} -- cycle;
\addplot[gseg] coordinates {(318,15)(319,17.4)(320,17.2)(322,16.3)(324,16)(326,15.8)(328,16.1)(330,15.6)(332,15.7)(334,16.2)(336,15.7)(338,15.5)(338,5.5)(336,4.9)(335,3.5)(334,2.9)(333,3.4)(331,3.8)(329,4)(327,4.3)(325,4.5)(323,4.8)(321,5.2)(319,5.6)(318,6)} -- cycle;
\addplot[rseg] coordinates {(338,14.5)(340,14.7)(342,15.8)(344,15.5)(346,15.2)(348,15.4)(350,15.1)(352,15.3)(354,15.6)(356,15.5)(358,15.8)(360,15.5)(360,5.8)(358,5.4)(356,5.7)(354,5.6)(352,5.8)(350,5.9)(348,5.7)(346,5.9)(344,5.8)(342,5.6)(340,5)(338,5.3)} -- cycle;
\addplot[gseg] coordinates {(398,14.8)(400,15.2)(402,15)(404,15.3)(406,15.1)(408,15.4)(410,15.6)(412,15.3)(414,15.2)(416,15)(418,14.6)(418,5.9)(416,5.7)(414,5.6)(412,5.4)(410,5.6)(408,5.7)(406,5.9)(404,5.8)(402,5.9)(400,6.1)(398,6.3)} -- cycle;
\addplot[rseg] coordinates {(418,15)(420,15.2)(422,15)(424,15.3)(426,16.2)(428,16.6)(430,16.4)(432,15.5)(434,15.3)(436,15.1)(438,14.9)(440,14.5)(440,5.5)(438,5.4)(436,5.6)(434,5.8)(432,5.6)(430,5.5)(428,5.4)(426,5.7)(424,5.8)(422,5.6)(420,5.7)(418,5.8)} -- cycle;
\end{axis}
\end{tikzpicture}
\end{document}
